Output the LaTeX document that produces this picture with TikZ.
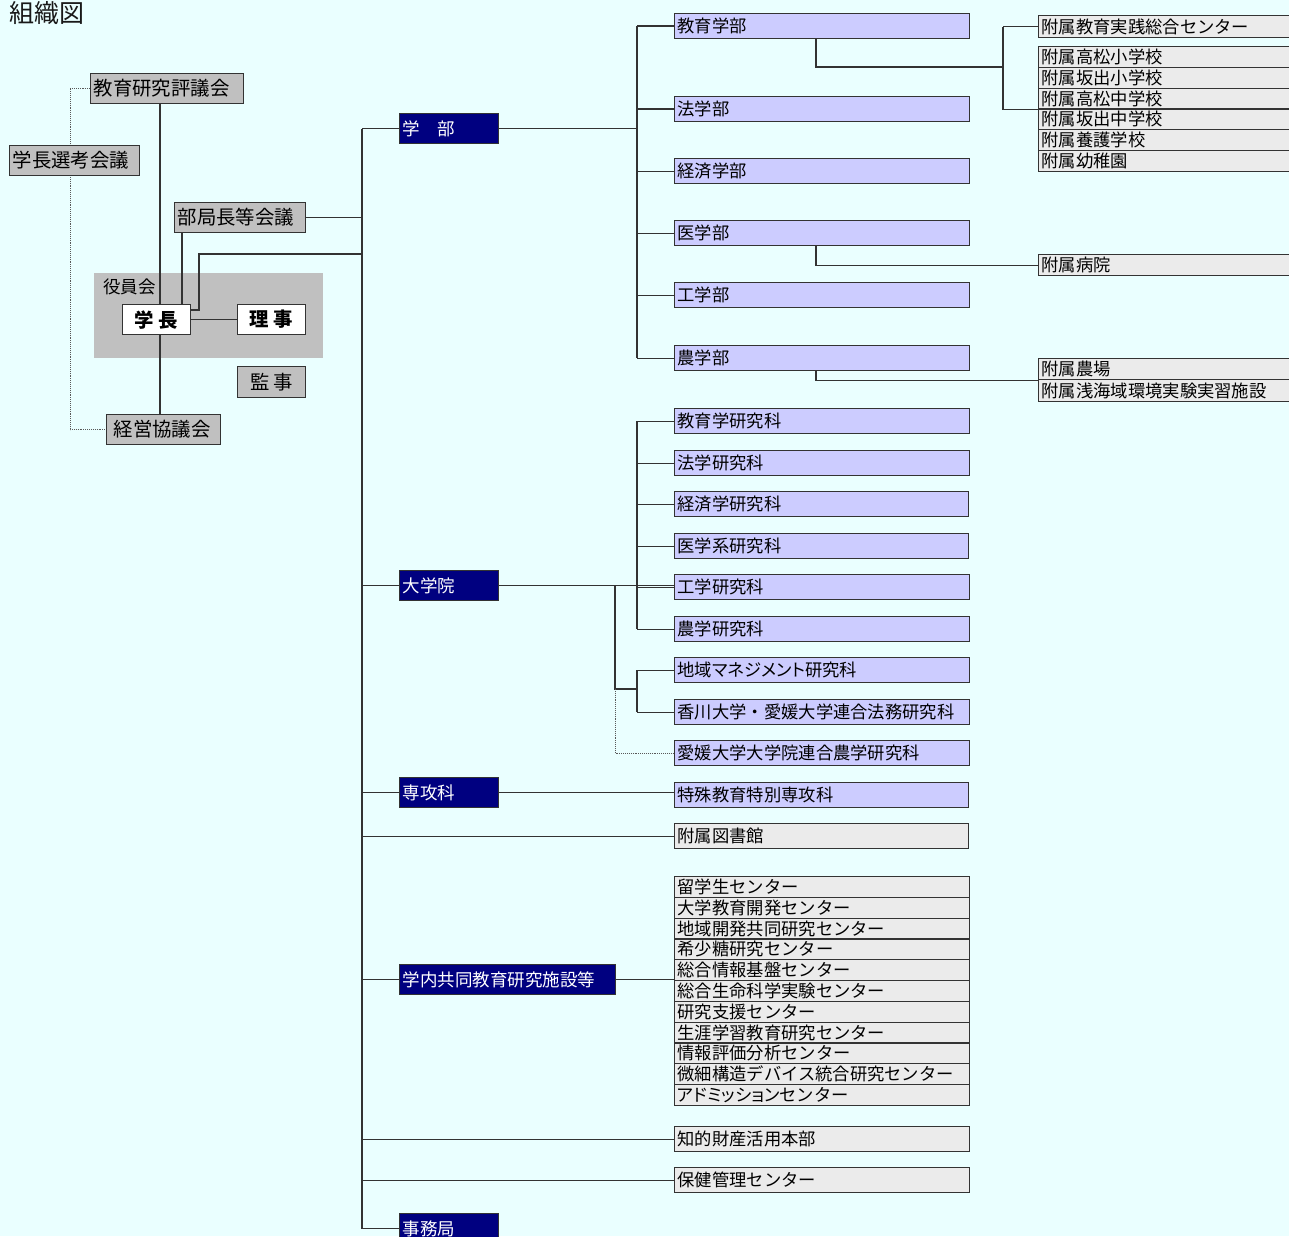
\documentclass[tikz,border=0pt]{standalone}
\usepackage{fontspec}
\setmainfont{Noto Sans CJK JP}
\newfontfamily\pfont{Noto Sans CJK JP}[RawFeature=+palt]
\definecolor{bgc}{HTML}{EAFFFF}
\definecolor{grayL}{HTML}{C0C0C0}
\definecolor{lav}{HTML}{CCCCFF}
\definecolor{lgray}{HTML}{EBEBEB}
\definecolor{navyc}{HTML}{000080}
\definecolor{linec}{HTML}{333333}
\pgfdeclarelayer{back}
\pgfdeclarelayer{bg}
\pgfsetlayers{back,bg,main}
% name, x, y, width, height, style, text
\newcommand\mybox[7]{\node[#6,anchor=north west,inner xsep=0pt,inner ysep=0pt,minimum height=#5pt] (#1) at (#2,#3) {\makebox[#4pt][l]{\hspace{3pt}#7}};}
\newcommand\mycbox[7]{\node[#6,anchor=north west,inner xsep=0pt,inner ysep=0pt,minimum height=#5pt] (#1) at (#2,#3) {\makebox[#4pt][c]{#7}};}
\begin{document}
\begin{tikzpicture}[x=1pt,y=-1pt,
  base/.style={draw=linec, line width=1.2pt, text=black, font=\fontsize{17.3}{18}\selectfont},
  leftbox/.style={base, fill=grayL, font=\fontsize{19.4}{20}\selectfont},
  whitebox/.style={base, fill=white, font=\fontsize{19.4}{20}\selectfont\bfseries},
  navybox/.style={base, fill=navyc, text=white, font=\fontsize{17.5}{18}\selectfont},
  lavbox/.style={base, fill=lav},
  graybox/.style={base, fill=lgray},
  conn/.style={draw=linec, line width=1.2pt},
  dotconn/.style={draw=black!65, line width=0.9pt, densely dotted}]
\useasboundingbox (0,0) rectangle (1289,1236);
\begin{pgfonlayer}{back}
\fill[bgc] (0,0) rectangle (1289,1236);
\fill[grayL] (94,273) rectangle (323,358);
\end{pgfonlayer}
\node[anchor=base west, inner sep=0pt, font=\fontsize{25}{25}\selectfont, text=black!90] (title) at (9,23) {組織図};
\node[anchor=west, inner sep=0pt, font=\fontsize{17.5}{18}\selectfont] (yakuinkai) at (103,287) {役員会};

% left part
\mybox{hyogi}{90}{73}{153}{30}{leftbox}{教育研究評議会}
\mybox{senko}{9}{145}{130}{30}{leftbox}{学長選考会議}
\mybox{bukyoku}{174}{202}{131}{30}{leftbox}{部局長等会議}
\mycbox{gakucho}{122}{304}{68}{30}{whitebox}{学 長}
\mycbox{riji}{237}{304}{68}{30}{whitebox}{理 事}
\mycbox{kanji}{237}{366}{68}{31}{leftbox}{監 事}
\mybox{keiei}{106}{414}{114}{30}{leftbox}{\hspace{4pt}経営協議会}

% navy boxes
\mybox{gakubu}{399}{113}{99}{30}{navybox}{学　部}
\mybox{daigakuin}{399}{570}{99}{30}{navybox}{大学院}
\mybox{senkoka}{399}{777}{99}{30}{navybox}{専攻科}
\mybox{gakunai}{399}{964}{216}{30}{navybox}{学内共同教育研究施設等}
\mybox{jimu}{399}{1213}{99}{30}{navybox}{事務局}

% faculties
\mybox{kyoiku}{674}{13}{295}{25}{lavbox}{教育学部}
\mybox{hogaku}{674}{96}{295}{25}{lavbox}{法学部}
\mybox{keizai}{674}{158}{295}{25}{lavbox}{経済学部}
\mybox{igaku}{674}{220}{295}{25}{lavbox}{医学部}
\mybox{kogaku}{674}{282}{295}{25}{lavbox}{工学部}
\mybox{nogaku}{674}{345}{295}{25}{lavbox}{農学部}

% graduate schools
\mybox{kyoikuK}{674}{408}{295}{25}{lavbox}{教育学研究科}
\mybox{hoK}{674}{450}{295}{25}{lavbox}{法学研究科}
\mybox{keizaiK}{674}{491}{294}{25}{lavbox}{経済学研究科}
\mybox{iK}{674}{533}{294}{25}{lavbox}{医学系研究科}
\mybox{koK}{674}{574}{295}{25}{lavbox}{工学研究科}
\mybox{noK}{674}{616}{295}{25}{lavbox}{農学研究科}
\mybox{chiiki}{674}{657}{295}{25}{lavbox}{地域{\pfont マネジメント}研究科}
\mybox{homu}{674}{699}{295}{25}{lavbox}{香川大学・愛媛大学連合法務研究科}
\mybox{ehime}{674}{740}{295}{25}{lavbox}{愛媛大学大学院連合農学研究科}
\mybox{tokushu}{674}{782}{294}{25}{lavbox}{特殊教育特別専攻科}
\mybox{tosho}{674}{823}{294}{25}{graybox}{附属図書館}

% centers
\mybox{c1}{674}{876}{295}{20.8}{graybox}{留学生センター}
\mybox{c2}{674}{896.8}{295}{20.8}{graybox}{大学教育開発センター}
\mybox{c3}{674}{917.6}{295}{20.8}{graybox}{地域開発共同研究センター}
\mybox{c4}{674}{938.4}{295}{20.8}{graybox}{希少糖研究センター}
\mybox{c5}{674}{959.2}{295}{20.8}{graybox}{総合情報基盤センター}
\mybox{c6}{674}{980}{295}{20.8}{graybox}{総合生命科学実験センター}
\mybox{c7}{674}{1000.8}{295}{20.8}{graybox}{研究支援センター}
\mybox{c8}{674}{1021.6}{295}{20.8}{graybox}{生涯学習教育研究センター}
\mybox{c9}{674}{1042.4}{295}{20.8}{graybox}{情報評価分析センター}
\mybox{c10}{674}{1063.2}{295}{20.8}{graybox}{微細構造デバイス統合研究センター}
\mybox{c11}{674}{1084}{295}{20.8}{graybox}{{\pfont アドミッション}センター}
\mybox{chiteki}{674}{1126}{295}{25}{graybox}{知的財産活用本部}
\mybox{hoken}{674}{1167}{295}{25}{graybox}{保健管理センター}

% right column
\mybox{jissen}{1038}{15}{270}{22}{graybox}{附属教育実践総合センター}
\mybox{s1}{1038}{46}{270}{20.8}{graybox}{附属高松小学校}
\mybox{s2}{1038}{66.8}{270}{20.8}{graybox}{附属坂出小学校}
\mybox{s3}{1038}{87.6}{270}{20.8}{graybox}{附属高松中学校}
\mybox{s4}{1038}{108.4}{270}{20.8}{graybox}{附属坂出中学校}
\mybox{s5}{1038}{129.2}{270}{20.8}{graybox}{附属養護学校}
\mybox{s6}{1038}{150}{270}{20.8}{graybox}{附属幼稚園}
\mybox{byoin}{1038}{254}{270}{21}{graybox}{附属病院}
\mybox{nojo}{1038}{358}{270}{21}{graybox}{附属農場}
\mybox{sengai}{1038}{379}{270}{22}{graybox}{附属浅海域環境実験実習施設}

\coordinate (tx) at (362,0);
\coordinate (fx) at (637,0);
\coordinate (hx) at (615,0);
\coordinate (sx) at (1003,0);
\coordinate (lx) at (70,0);

\begin{pgfonlayer}{bg}
% left
\draw[conn] (hyogi.south -| 160,0) -- (gakucho.north -| 160,0);
\draw[conn] (gakucho.south -| 160,0) -- (keiei.north -| 160,0);
\draw[conn] (bukyoku.south -| 182,0) -- (gakucho.north -| 182,0);
\draw[conn] (gakucho.east) -- (riji.west);
\draw[conn] (gakucho.east |- 0,310) -| (199,254) -- (tx |- 0,254);
\draw[conn] (bukyoku.east) -- (tx |- bukyoku.east);
\draw[dotconn] (hyogi.west) -- (lx |- hyogi.west) -- (lx |- keiei.west) -- (keiei.west);
% trunk
\draw[conn] (tx |- gakubu.west) -- (tx |- jimu.west);
\foreach \n in {gakubu,daigakuin,senkoka,gakunai,jimu}
  \draw[conn] (tx |- \n.west) -- (\n.west);
\foreach \n in {tosho,chiteki,hoken}
  \draw[conn] (tx |- \n.west) -- (\n.west);
% faculties
\draw[conn] (gakubu.east) -- (fx |- gakubu.east);
\draw[conn] (fx |- kyoiku.west) -- (fx |- nogaku.west);
\foreach \n in {kyoiku,hogaku,keizai,igaku,kogaku,nogaku}
  \draw[conn] (fx |- \n.west) -- (\n.west);
\draw[conn] (kyoiku.south -| 816,0) |- (sx |- 0,67);
\draw[conn] (sx |- jissen.west) -- (jissen.west);
\draw[conn] (sx |- jissen.west) -- (sx |- s3.south) -- (s3.south west);
\draw[conn] (igaku.south -| 816,0) |- (byoin.west);
\draw[conn] (nogaku.south -| 816,0) |- (nojo.south west);
% graduate
\draw[conn] (daigakuin.east) -- (daigakuin.east -| koK.west);
\draw[conn] (fx |- kyoikuK.west) -- (fx |- noK.west);
\foreach \n in {kyoikuK,hoK,keizaiK,iK,koK,noK}
  \draw[conn] (fx |- \n.west) -- (\n.west);
\draw[conn] (hx |- daigakuin.east) -- (hx |- 0,689) -- (fx |- 0,689);
\draw[conn] (fx |- chiiki.west) -- (fx |- homu.west);
\draw[conn] (fx |- chiiki.west) -- (chiiki.west);
\draw[conn] (fx |- homu.west) -- (homu.west);
\draw[dotconn] (hx |- 0,689) -- (hx |- ehime.west) -- (ehime.west);
\draw[conn] (senkoka.east) -- (senkoka.east -| tokushu.west);
\draw[conn] (gakunai.east) -- (gakunai.east -| c1.west);
\end{pgfonlayer}
\end{tikzpicture}
\end{document}
